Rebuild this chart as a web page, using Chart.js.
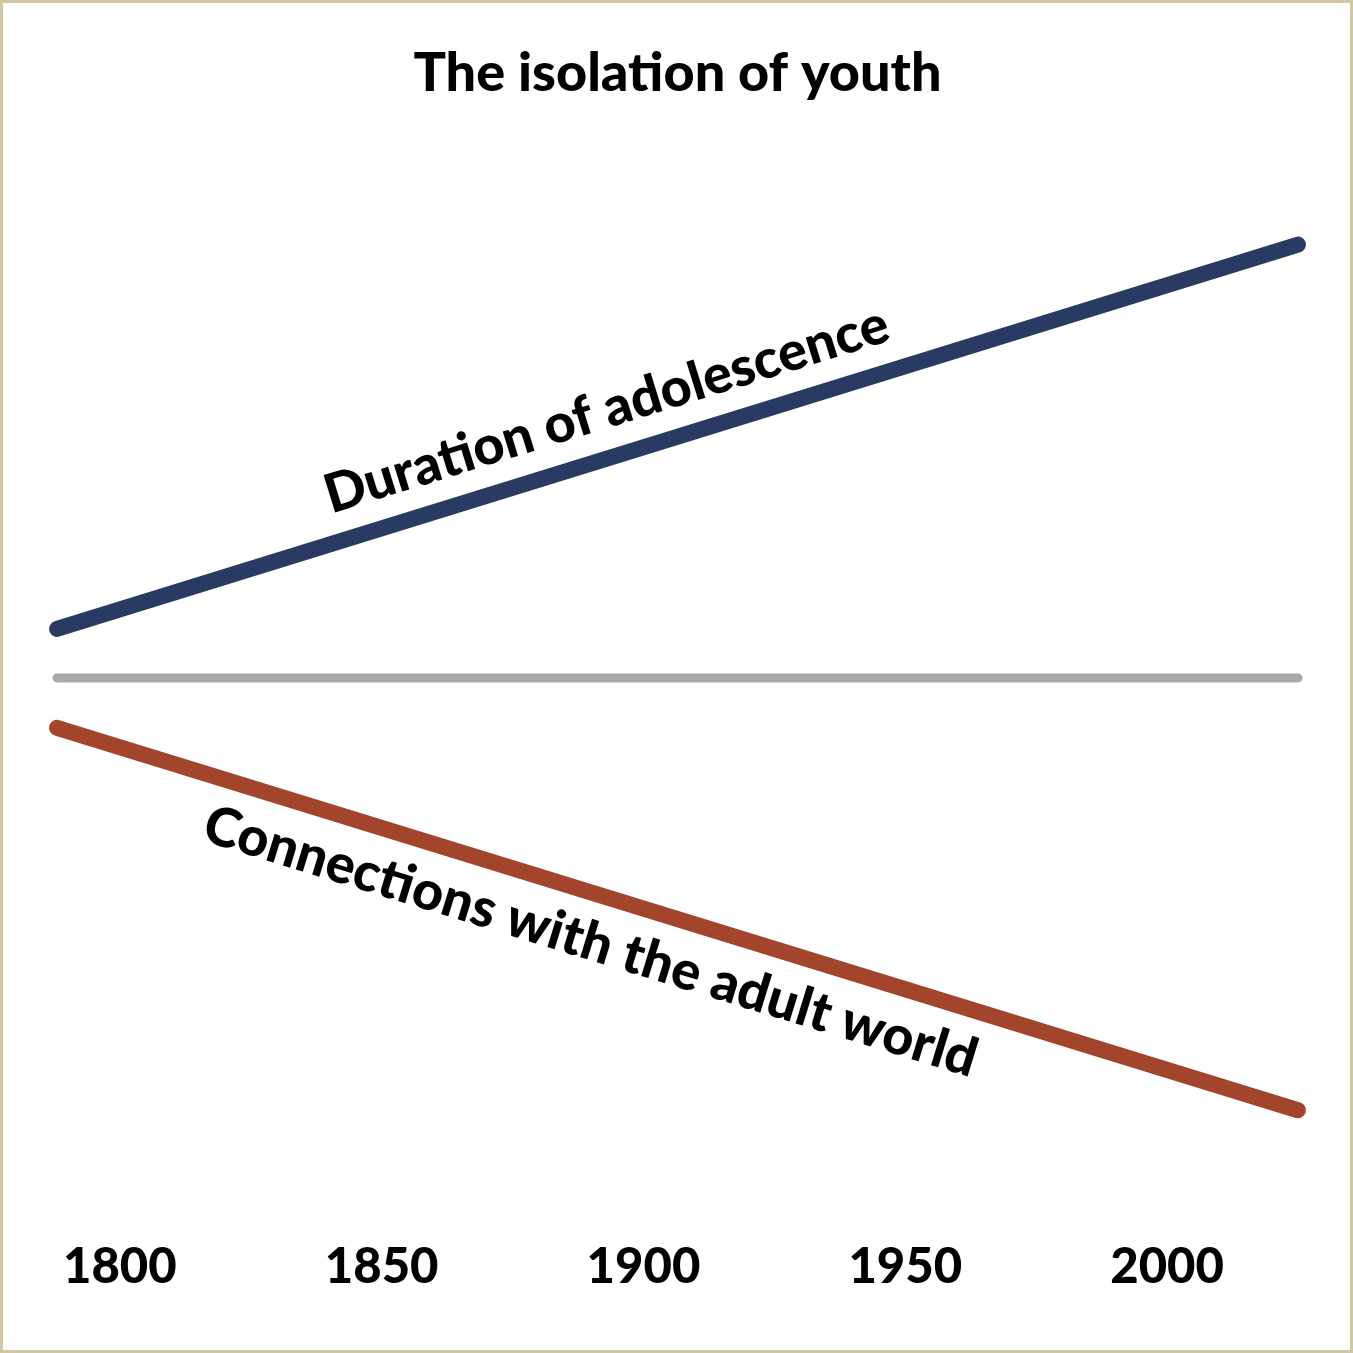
<!DOCTYPE html>
<html>
<head>
<meta charset="utf-8">
<script src="https://cdn.jsdelivr.net/npm/chart.js@4"></script>
<style>
  html, body { margin: 0; padding: 0; background: #fff; }
  #c { display: block; }
</style>
</head>
<body>
<canvas id="c" width="1353" height="1353"></canvas>
<script>
// ---- data ----
const titleText = 'The isolation of youth';
const tickYears = [1800, 1850, 1900, 1950, 2000];
const lineYears = [1788, 2025];
const adolescenceValues = [10.2, 90.2];
const baselineValues = [0, 0];
const connectionValues = [-10.4, -90.0];
const labelTexts = ['Duration of adolescence', 'Connections with the adult world'];
const labelSeries = [0, 2];
const labelStartYears = [1842, 1819];

const FONT = 'Lato, "Open Sans", "DejaVu Sans", sans-serif';

const toPoints = vals => lineYears.map((x, i) => ({ x: x, y: vals[i] }));

const framePlugin = {
  id: 'frame',
  beforeDraw(chart) {
    const ctx = chart.ctx;
    ctx.save();
    ctx.fillStyle = '#ffffff';
    ctx.fillRect(0, 0, chart.width, chart.height);
    ctx.restore();
  },
  afterDraw(chart) {
    const ctx = chart.ctx;
    ctx.save();
    ctx.strokeStyle = '#d3c6a2';
    ctx.lineWidth = 3;
    ctx.strokeRect(1.5, 1.5, chart.width - 3, chart.height - 3);
    ctx.restore();
  }
};

const lineLabelPlugin = {
  id: 'lineLabels',
  afterDatasetsDraw(chart) {
    const ctx = chart.ctx;
    const xs = chart.scales.x, ys = chart.scales.y;
    labelTexts.forEach((txt, i) => {
      const ds = chart.data.datasets[labelSeries[i]].data;
      const p0 = { x: xs.getPixelForValue(ds[0].x), y: ys.getPixelForValue(ds[0].y) };
      const p1 = { x: xs.getPixelForValue(ds[1].x), y: ys.getPixelForValue(ds[1].y) };
      const ang = Math.atan2(p1.y - p0.y, p1.x - p0.x);
      const yr = labelStartYears[i];
      const t = (yr - ds[0].x) / (ds[1].x - ds[0].x);
      const val = ds[0].y + t * (ds[1].y - ds[0].y);
      const px = xs.getPixelForValue(yr), py = ys.getPixelForValue(val);
      ctx.save();
      ctx.translate(px, py);
      ctx.rotate(ang);
      ctx.font = '900 54px ' + FONT;
      ctx.fillStyle = '#000000';
      ctx.textAlign = 'left';
      ctx.textBaseline = 'alphabetic';
      const above = ang < 0;
      ctx.fillText(txt, 0, above ? -29 : 65);
      ctx.restore();
    });
  }
};

new Chart(document.getElementById('c'), {
  type: 'line',
  data: {
    datasets: [
      { label: 'Duration of adolescence', data: toPoints(adolescenceValues), borderColor: '#2a3b63', borderWidth: 16, borderCapStyle: 'round', pointRadius: 0, fill: false, clip: false },
      { label: 'Baseline', data: toPoints(baselineValues), borderColor: '#a5aaa6', borderWidth: 9, borderCapStyle: 'round', pointRadius: 0, fill: false, clip: false },
      { label: 'Connections with the adult world', data: toPoints(connectionValues), borderColor: '#a3442d', borderWidth: 16, borderCapStyle: 'round', pointRadius: 0, fill: false, clip: false }
    ]
  },
  options: {
    responsive: false,
    animation: false,
    devicePixelRatio: 1,
    layout: { padding: { left: 57, right: 55, top: 0, bottom: 27 } },
    plugins: {
      legend: { display: false },
      tooltip: { enabled: false },
      title: {
        display: true,
        text: titleText,
        color: '#000000',
        font: { family: FONT, size: 54, weight: '900', lineHeight: 1.2 },
        padding: { top: 41, bottom: 0 }
      }
    },
    scales: {
      x: {
        type: 'linear',
        min: lineYears[0],
        max: lineYears[1],
        afterBuildTicks: s => { s.ticks = tickYears.map(v => ({ value: v })); },
        grid: { display: false, drawTicks: false },
        border: { display: false },
        ticks: {
          color: '#000000',
          padding: 29,
          maxRotation: 0,
          autoSkip: false,
          font: { family: FONT, size: 49, weight: '900', lineHeight: 1.2 },
          callback: v => String(v)
        }
      },
      y: {
        display: false,
        min: -110.6,
        max: 119.1
      }
    }
  },
  plugins: [framePlugin, lineLabelPlugin]
});
</script>
</body>
</html>
